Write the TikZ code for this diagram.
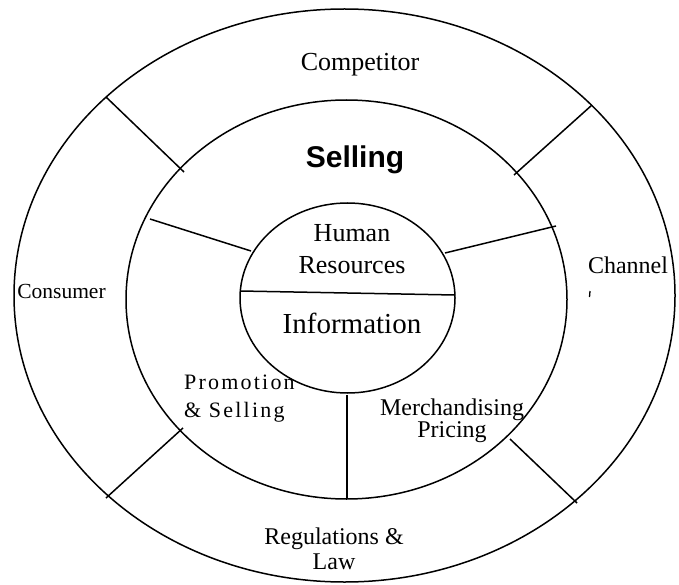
\documentclass[tikz,border=0pt]{standalone}
\usepackage{fontspec}
\setmainfont{Liberation Serif}
\newfontfamily\sellfont{Liberation Sans}
\newfontfamily\spacedfont[LetterSpace=10]{Liberation Serif}
\tikzset{
  ring/.style={draw=black, line width=1.5pt},
  divider/.style={draw=black, line width=1.5pt},
  lbl/.style={inner sep=0pt, text=black, align=center},
}
\begin{document}
\begin{tikzpicture}[x=1pt, y=-1pt]
\useasboundingbox (0,0) rectangle (679,585);
% rings
\draw[ring] (344.5,295.5) ellipse [x radius=330.5pt, y radius=286.5pt];
\draw[ring] (346.5,299.5) ellipse [x radius=220.5pt, y radius=199.5pt];
\draw[ring] (347.5,298) ellipse [x radius=107.5pt, y radius=95pt];
% dividers
\coordinate (ulA) at (106,97);  \coordinate (ulB) at (184,172);
\coordinate (urA) at (592,105); \coordinate (urB) at (514,175);
\coordinate (mlA) at (150,219); \coordinate (mlB) at (251,251);
\coordinate (mrA) at (556,226); \coordinate (mrB) at (445,253);
\coordinate (llA) at (183,428); \coordinate (llB) at (106,498);
\coordinate (lrA) at (510,439); \coordinate (lrB) at (577,503);
\coordinate (vA) at (347,395);  \coordinate (vB) at (347,499);
\coordinate (hA) at (240,291);  \coordinate (hB) at (455,295);
\draw[divider] (ulA) -- (ulB);
\draw[divider] (urA) -- (urB);
\draw[divider] (mlA) -- (mlB);
\draw[divider] (mrA) -- (mrB);
\draw[divider] (llA) -- (llB);
\draw[divider] (lrA) -- (lrB);
\draw[divider] (vA) -- (vB);
\draw[divider] (hA) -- (hB);
% tick under Channel
\coordinate (tA) at (590,291); \coordinate (tB) at (589.5,297);
\draw[line width=1.3pt] (tA) -- (tB);
% labels
\node[lbl, font={\fontsize{26}{28}\selectfont}] (competitor) at (360,65) {Competitor};
\node[lbl, font={\sellfont\bfseries\fontsize{30}{32}\selectfont}] (selling) at (355,160) {Selling};
\node[lbl, font={\fontsize{26}{32}\selectfont}] (human) at (352,249) {Human\\Resources};
\node[lbl, font={\fontsize{29}{32}\selectfont}] (info) at (352,323) {Information};
\node[lbl, font={\fontsize{21.5}{24}\selectfont}] (consumer) at (61.5,291) {Consumer};
\node[lbl, font={\fontsize{24}{26}\selectfont}] (channel) at (628,265) {Channel};
\node[lbl, align=left, anchor=west, font={\spacedfont\fontsize{22}{28}\selectfont}] (promo) at (184,399) {Promotion\\\& Selling};
\node[lbl, font={\fontsize{24}{22}\selectfont}] (merch) at (452,421) {Merchandising\\Pricing};
\node[lbl, font={\fontsize{24}{25}\selectfont}] (regs) at (334,549) {Regulations \&\\Law};
\end{tikzpicture}
\end{document}
